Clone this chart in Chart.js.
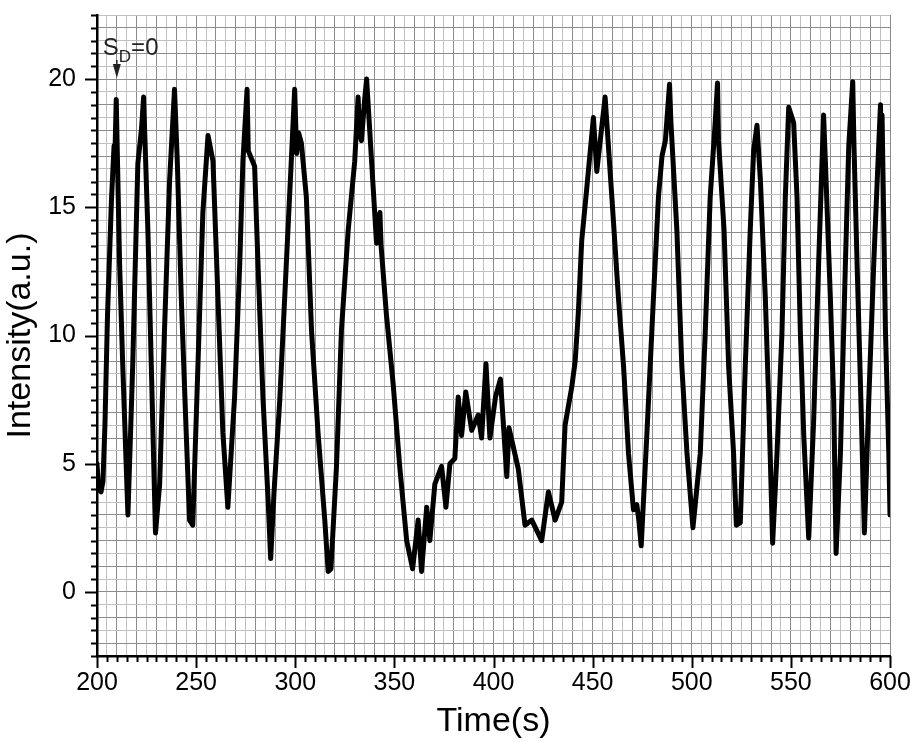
<!DOCTYPE html>
<html>
<head>
<meta charset="utf-8">
<script src="https://cdn.jsdelivr.net/npm/chart.js@4"></script>
<style>
  html, body { margin: 0; padding: 0; background: #fff; }
  #wrap { width: 914px; height: 742px; }
</style>
</head>
<body>
<div id="wrap"><canvas id="chart" width="914" height="742"></canvas></div>
<script>
// time (s)
var times = [
  200, 200.8, 202, 203, 204, 205.3, 207.3, 208.6, 209, 209.7, 211.4, 213, 215.6,
  218, 220.6, 222.5, 223.5, 225.7, 227.4, 229.5, 231.6, 234, 236.6, 239.1, 240.5,
  242.5, 245, 246.7, 248.3, 250.9, 253.4, 256, 258.5, 261, 263.5, 266, 269.4, 272,
  273.6, 275.7, 276.3, 279.5, 281.2, 283.7, 286.3, 287.6, 289.3, 292.2, 295.5, 298,
  299.7, 300.7, 301.7, 303.1, 305.6, 308.2, 311.5, 314.9, 316.6, 318, 320.8, 323.3,
  326.7, 330, 331.7, 332.5, 333.4, 335, 336, 338.5, 341, 342.7, 343.3, 346, 349.4,
  352.8, 356.2, 359.2, 362, 363.7, 366.3, 367.9, 370.4, 373.8, 376, 378, 380.5,
  382.2, 383.9, 386, 389, 392.3, 394, 396.2, 398.2, 401, 403.5, 406.7, 407.8, 412.5,
  415.9, 419.3, 424.3, 427.7, 431.1, 434.4, 436.1, 439.5, 441.2, 442.8, 444.5, 447,
  450.4, 452.1, 456.3, 459.7, 463, 465.6, 468.1, 470.6, 472.3, 473.3, 474.5, 477.4,
  480.7, 483.2, 485, 486.7, 488.8, 489.5, 492.5, 495, 497.6, 500.6, 504.3, 506.8,
  509.3, 511.9, 513, 513.5, 516.3, 518.6, 521.1, 522.5, 524.5, 527, 529.5, 531.2,
  532.9, 534.6, 537.1, 538.8, 540.8, 543, 545.5, 547.2, 548.9, 551.4, 553.1, 554.8,
  556.5, 559, 561.5, 564, 566.5, 567.4, 569.9, 571.6, 572.8, 575, 577.5, 579.2,
  581.2, 581.8, 583.4, 585.1, 587.1, 589.3, 591.8, 594.3, 595.2, 595.6, 596, 597.7,
  599.4, 600
];
// intensity (a.u.)
var intensity = [
  5.0, 4.0, 3.9, 4.3, 6.5, 10.8, 15.3, 17.4, 16.9, 19.2, 12.8, 8.8, 3.0,
  8.8, 16.7, 18.1, 19.3, 14.0, 8.8, 2.3, 4.2, 10.1, 16.0, 19.6, 16.8,
  11.5, 6.2, 2.8, 2.6, 8.8, 14.8, 17.8, 16.8, 11.5, 6.2, 3.3, 7.6, 12.8,
  16.8, 19.6, 17.2, 16.6, 12.8, 7.6, 3.6, 1.3, 3.9, 7.5, 12.8, 16.8,
  19.6, 17.1, 17.9, 17.5, 15.4, 10.2, 6.2, 2.8, 0.8, 0.9, 4.9, 10.2,
  14.1, 16.8, 19.3, 17.9, 17.6, 19.2, 20.0, 16.8, 13.6, 14.8, 13.5, 10.8, 8.1,
  4.8, 2.0, 0.9, 2.8, 0.8, 3.3, 2.0, 4.2, 4.9, 3.3, 5.0, 5.2,
  7.6, 6.1, 7.8, 6.3, 6.9, 6.0, 8.9, 6.0, 7.6, 8.3, 4.5, 6.4, 4.8,
  2.6, 2.8, 2.0, 3.9, 2.8, 3.5, 6.5, 8.0, 9.0, 10.9, 13.7, 15.7,
  18.5, 16.4, 19.3, 15.4, 11.5, 8.8, 5.4, 3.2, 3.4, 2.8, 1.8, 6.2,
  11.5, 15.4, 17.0, 17.6, 19.8, 18.3, 14.1, 8.8, 5.4, 2.5, 5.4, 10.1,
  15.4, 18.4, 19.85, 17.6, 14.1, 8.8, 5.4, 2.6, 2.7, 8.8, 14.1, 17.2,
  18.2, 16.1, 11.5, 7.5, 1.9, 5.4, 10.1, 15.4, 18.9, 18.3, 15.4, 10.1,
  6.1, 2.1, 6.7, 12.8, 18.6, 16.8, 11.5, 7.5, 1.5, 5.4, 12.8, 17.4,
  19.9, 17.5, 12.8, 8.1, 2.3, 7.5, 12.8, 17.4, 19.0, 17.0, 18.6, 10.2,
  5.4, 3.0
];
var xTickLabels = [200, 250, 300, 350, 400, 450, 500, 550, 600];
var yTickLabels = [0, 5, 10, 15, 20];

var points = times.map(function(t, i) { return { x: t, y: intensity[i] }; });

var fontFamily = "'Liberation Sans', Arial, sans-serif";
var darkGrid = '#8c8c8c';
var lightGrid = '#c0c0c0';

// outward tick marks, long ones at labelled values, plus the S_D=0 marker
var tickMarks = {
  id: 'tickMarks',
  afterDraw: function(chart) {
    var c = chart.ctx, xs = chart.scales.x, ys = chart.scales.y;
    var area = chart.chartArea;
    c.save();
    c.strokeStyle = '#000';
    c.lineWidth = 2;
    for (var v = 200; v <= 600; v += 5) {
      var px = Math.round(xs.getPixelForValue(v)) + 0.5;
      var len = xTickLabels.indexOf(v) >= 0 ? 12 : 6;
      c.beginPath();
      c.moveTo(px, area.bottom);
      c.lineTo(px, area.bottom + len);
      c.stroke();
    }
    for (var k = -5; k <= 45; k++) {
      var yv = k / 2;
      var py = Math.round(ys.getPixelForValue(yv)) + 0.5;
      var l2 = yTickLabels.indexOf(yv) >= 0 ? 12 : 6;
      c.beginPath();
      c.moveTo(area.left, py);
      c.lineTo(area.left - l2, py);
      c.stroke();
    }
    var ax = xs.getPixelForValue(210);
    c.fillStyle = '#222';
    c.textBaseline = 'alphabetic';
    c.font = '24px ' + fontFamily;
    c.fillText('S', ax - 14, 55);
    var sw = c.measureText('S').width;
    c.font = '17px ' + fontFamily;
    c.fillText('D', ax - 14 + sw, 62);
    var dw = c.measureText('D').width;
    c.font = '24px ' + fontFamily;
    c.fillText('=0', ax - 14 + sw + dw, 55);
    c.strokeStyle = '#222';
    c.lineWidth = 1.5;
    c.beginPath();
    c.moveTo(ax, 60);
    c.lineTo(ax, 74);
    c.stroke();
    c.beginPath();
    c.moveTo(ax - 4, 64);
    c.lineTo(ax, 78);
    c.lineTo(ax + 4, 64);
    c.closePath();
    c.fill();
    c.restore();
  }
};

new Chart(document.getElementById('chart'), {
  type: 'line',
  data: {
    datasets: [{
      data: points,
      borderColor: '#000',
      borderWidth: 5,
      borderJoinStyle: 'round',
      borderCapStyle: 'round',
      pointRadius: 0,
      tension: 0,
      fill: false
    }]
  },
  options: {
    responsive: false,
    animation: false,
    layout: { padding: { top: 15, right: 24, left: 0, bottom: 0 } },
    plugins: { legend: { display: false }, tooltip: { enabled: false } },
    scales: {
      x: {
        type: 'linear',
        min: 200,
        max: 600,
        afterFit: function(s) { s.height = 86; s.paddingLeft = 0; s.paddingRight = 0; },
        border: { color: '#000', width: 2.5 },
        grid: {
          drawTicks: false,
          lineWidth: 1,
          color: function(ctx) { return (ctx.tick && ctx.tick.value % 10 === 0) ? darkGrid : lightGrid; }
        },
        ticks: {
          stepSize: 5,
          autoSkip: false,
          maxRotation: 0,
          padding: 12,
          color: '#000',
          font: { family: fontFamily, size: 25 },
          callback: function(v) { return xTickLabels.indexOf(v) >= 0 ? String(v) : ''; }
        },
        title: {
          display: true,
          text: 'Time(s)',
          color: '#000',
          padding: { top: 0, bottom: 0 },
          font: { family: fontFamily, size: 34 }
        }
      },
      y: {
        min: -2.5,
        max: 22.5,
        afterFit: function(s) { s.width = 97; s.paddingTop = 0; s.paddingBottom = 0; },
        border: { color: '#000', width: 2.5 },
        grid: {
          drawTicks: false,
          lineWidth: 1,
          color: function(ctx) { return (ctx.tick && Math.round(ctx.tick.value * 2) % 2 === 0) ? darkGrid : lightGrid; }
        },
        ticks: {
          stepSize: 0.5,
          autoSkip: false,
          padding: 21,
          color: '#000',
          font: { family: fontFamily, size: 25 },
          callback: function(v) { return yTickLabels.indexOf(v) >= 0 ? String(v) : ''; }
        },
        title: {
          display: true,
          text: 'Intensity(a.u.)',
          color: '#000',
          padding: { top: 0, bottom: 0 },
          font: { family: fontFamily, size: 34 }
        }
      }
    }
  },
  plugins: [tickMarks]
});
</script>
</body>
</html>
